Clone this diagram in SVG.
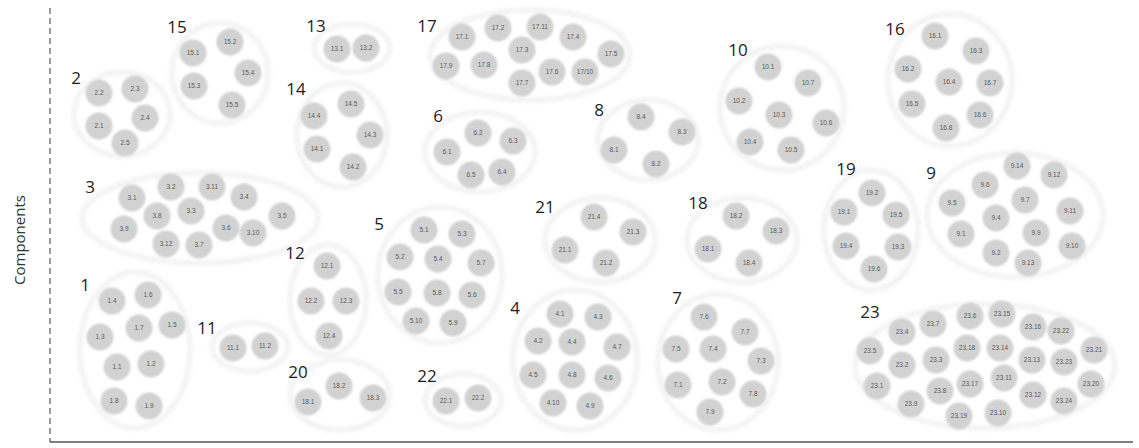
<svg xmlns="http://www.w3.org/2000/svg" width="1139" height="448" viewBox="0 0 1139 448">
<defs>
<filter id="soft" x="-20%" y="-20%" width="140%" height="140%"><feGaussianBlur stdDeviation="1"/></filter>
<filter id="halo" x="-10%" y="-10%" width="120%" height="120%"><feGaussianBlur stdDeviation="2"/></filter>
</defs>
<style>
.c{fill:#d2d2d2;filter:url(#soft)}
.e{fill:none;stroke:#ededed;stroke-width:3.5;filter:url(#halo)}
.t{font-family:"Liberation Sans",Arial,sans-serif;font-size:6.5px;fill:#5a5a5a;text-anchor:middle}
.g{font-family:"Open Sans","Liberation Sans",sans-serif;font-size:17px;fill:#1e1e1e;text-anchor:middle}
.ax{font-family:"Open Sans","Liberation Sans",sans-serif;font-size:15px;fill:#333;text-anchor:middle}
</style>
<rect width="1139" height="448" fill="#fff"/>
<g id="axes">
<line x1="50" y1="8" x2="50" y2="442" stroke="#555" stroke-width="1.2" stroke-dasharray="6,4"/>
<line x1="50" y1="442" x2="1133" y2="442" stroke="#555" stroke-width="1.5"/>
<text class="ax" transform="translate(25,240) rotate(-90)">Components</text>
</g>
<g id="connectors"/>

<g id="group-1">
<ellipse class="e" cx="135" cy="350" rx="55" ry="78"/>
<text class="g" x="85" y="291">1</text>
<circle class="c" cx="112" cy="301" r="13.5"/><text class="t" x="112" y="303.3">1.4</text>
<circle class="c" cx="148" cy="295" r="13.5"/><text class="t" x="148" y="297.3">1.6</text>
<circle class="c" cx="100" cy="337" r="13.5"/><text class="t" x="100" y="339.3">1.3</text>
<circle class="c" cx="139" cy="328" r="13.5"/><text class="t" x="139" y="330.3">1.7</text>
<circle class="c" cx="172" cy="325" r="13.5"/><text class="t" x="172" y="327.3">1.5</text>
<circle class="c" cx="117" cy="367" r="13.5"/><text class="t" x="117" y="369.3">1.1</text>
<circle class="c" cx="151" cy="364" r="13.5"/><text class="t" x="151" y="366.3">1.2</text>
<circle class="c" cx="114" cy="401" r="13.5"/><text class="t" x="114" y="403.3">1.8</text>
<circle class="c" cx="149" cy="406" r="13.5"/><text class="t" x="149" y="408.3">1.9</text>
</g>

<g id="group-2">
<ellipse class="e" cx="122" cy="114" rx="48" ry="42"/>
<text class="g" x="76" y="84">2</text>
<circle class="c" cx="99" cy="93" r="13.5"/><text class="t" x="99" y="95.3">2.2</text>
<circle class="c" cx="135" cy="89" r="13.5"/><text class="t" x="135" y="91.3">2.3</text>
<circle class="c" cx="99" cy="126" r="13.5"/><text class="t" x="99" y="128.3">2.1</text>
<circle class="c" cx="145" cy="118" r="13.5"/><text class="t" x="145" y="120.3">2.4</text>
<circle class="c" cx="125" cy="143" r="13.5"/><text class="t" x="125" y="145.3">2.5</text>
</g>

<g id="group-3">
<ellipse class="e" cx="200" cy="218" rx="118" ry="45"/>
<text class="g" x="90" y="193">3</text>
<circle class="c" cx="132" cy="198" r="13.5"/><text class="t" x="132" y="200.3">3.1</text>
<circle class="c" cx="171" cy="187" r="13.5"/><text class="t" x="171" y="189.3">3.2</text>
<circle class="c" cx="212" cy="187" r="13.5"/><text class="t" x="212" y="189.3">3.11</text>
<circle class="c" cx="244" cy="197" r="13.5"/><text class="t" x="244" y="199.3">3.4</text>
<circle class="c" cx="282" cy="216" r="13.5"/><text class="t" x="282" y="218.3">3.5</text>
<circle class="c" cx="124" cy="229" r="13.5"/><text class="t" x="124" y="231.3">3.9</text>
<circle class="c" cx="157" cy="216" r="13.5"/><text class="t" x="157" y="218.3">3.8</text>
<circle class="c" cx="191" cy="211" r="13.5"/><text class="t" x="191" y="213.3">3.3</text>
<circle class="c" cx="226" cy="228" r="13.5"/><text class="t" x="226" y="230.3">3.6</text>
<circle class="c" cx="253" cy="233" r="13.5"/><text class="t" x="253" y="235.3">3.10</text>
<circle class="c" cx="166" cy="244" r="13.5"/><text class="t" x="166" y="246.3">3.12</text>
<circle class="c" cx="199" cy="245" r="13.5"/><text class="t" x="199" y="247.3">3.7</text>
</g>

<g id="group-4">
<ellipse class="e" cx="575" cy="360" rx="62" ry="70"/>
<text class="g" x="515" y="314">4</text>
<circle class="c" cx="560" cy="314" r="13.5"/><text class="t" x="560" y="316.3">4.1</text>
<circle class="c" cx="598" cy="317" r="13.5"/><text class="t" x="598" y="319.3">4.3</text>
<circle class="c" cx="538" cy="341" r="13.5"/><text class="t" x="538" y="343.3">4.2</text>
<circle class="c" cx="572" cy="342" r="13.5"/><text class="t" x="572" y="344.3">4.4</text>
<circle class="c" cx="617" cy="347" r="13.5"/><text class="t" x="617" y="349.3">4.7</text>
<circle class="c" cx="533" cy="375" r="13.5"/><text class="t" x="533" y="377.3">4.5</text>
<circle class="c" cx="572" cy="375" r="13.5"/><text class="t" x="572" y="377.3">4.8</text>
<circle class="c" cx="608" cy="378" r="13.5"/><text class="t" x="608" y="380.3">4.6</text>
<circle class="c" cx="553" cy="403" r="13.5"/><text class="t" x="553" y="405.3">4.10</text>
<circle class="c" cx="590" cy="406" r="13.5"/><text class="t" x="590" y="408.3">4.9</text>
</g>

<g id="group-5">
<ellipse class="e" cx="440" cy="275" rx="62" ry="68"/>
<text class="g" x="379" y="230">5</text>
<circle class="c" cx="424" cy="230" r="13.5"/><text class="t" x="424" y="232.3">5.1</text>
<circle class="c" cx="462" cy="234" r="13.5"/><text class="t" x="462" y="236.3">5.3</text>
<circle class="c" cx="400" cy="257" r="13.5"/><text class="t" x="400" y="259.3">5.2</text>
<circle class="c" cx="438" cy="259" r="13.5"/><text class="t" x="438" y="261.3">5.4</text>
<circle class="c" cx="481" cy="263" r="13.5"/><text class="t" x="481" y="265.3">5.7</text>
<circle class="c" cx="398" cy="292" r="13.5"/><text class="t" x="398" y="294.3">5.5</text>
<circle class="c" cx="437" cy="293" r="13.5"/><text class="t" x="437" y="295.3">5.8</text>
<circle class="c" cx="472" cy="295" r="13.5"/><text class="t" x="472" y="297.3">5.6</text>
<circle class="c" cx="416" cy="321" r="13.5"/><text class="t" x="416" y="323.3">5.10</text>
<circle class="c" cx="453" cy="323" r="13.5"/><text class="t" x="453" y="325.3">5.9</text>
</g>

<g id="group-6">
<ellipse class="e" cx="480" cy="152" rx="55" ry="40"/>
<text class="g" x="438" y="122">6</text>
<circle class="c" cx="478" cy="133" r="13.5"/><text class="t" x="478" y="135.3">6.2</text>
<circle class="c" cx="513" cy="141" r="13.5"/><text class="t" x="513" y="143.3">6.3</text>
<circle class="c" cx="447" cy="152" r="13.5"/><text class="t" x="447" y="154.3">6.1</text>
<circle class="c" cx="471" cy="175" r="13.5"/><text class="t" x="471" y="177.3">6.5</text>
<circle class="c" cx="502" cy="172" r="13.5"/><text class="t" x="502" y="174.3">6.4</text>
</g>

<g id="group-7">
<ellipse class="e" cx="718" cy="362" rx="60" ry="68"/>
<text class="g" x="677" y="304">7</text>
<circle class="c" cx="704" cy="317" r="13.5"/><text class="t" x="704" y="319.3">7.6</text>
<circle class="c" cx="745" cy="332" r="13.5"/><text class="t" x="745" y="334.3">7.7</text>
<circle class="c" cx="676" cy="349" r="13.5"/><text class="t" x="676" y="351.3">7.5</text>
<circle class="c" cx="713" cy="349" r="13.5"/><text class="t" x="713" y="351.3">7.4</text>
<circle class="c" cx="761" cy="361" r="13.5"/><text class="t" x="761" y="363.3">7.3</text>
<circle class="c" cx="678" cy="385" r="13.5"/><text class="t" x="678" y="387.3">7.1</text>
<circle class="c" cx="722" cy="382" r="13.5"/><text class="t" x="722" y="384.3">7.2</text>
<circle class="c" cx="753" cy="394" r="13.5"/><text class="t" x="753" y="396.3">7.8</text>
<circle class="c" cx="710" cy="412" r="13.5"/><text class="t" x="710" y="414.3">7.9</text>
</g>

<g id="group-8">
<ellipse class="e" cx="648" cy="140" rx="50" ry="40"/>
<text class="g" x="599" y="116">8</text>
<circle class="c" cx="641" cy="117" r="13.5"/><text class="t" x="641" y="119.3">8.4</text>
<circle class="c" cx="682" cy="132" r="13.5"/><text class="t" x="682" y="134.3">8.3</text>
<circle class="c" cx="614" cy="150" r="13.5"/><text class="t" x="614" y="152.3">8.1</text>
<circle class="c" cx="656" cy="164" r="13.5"/><text class="t" x="656" y="166.3">8.2</text>
</g>

<g id="group-9">
<ellipse class="e" cx="1015" cy="215" rx="88" ry="62"/>
<text class="g" x="931" y="179">9</text>
<circle class="c" cx="1017" cy="166" r="13.5"/><text class="t" x="1017" y="168.3">9.14</text>
<circle class="c" cx="1054" cy="175" r="13.5"/><text class="t" x="1054" y="177.3">9.12</text>
<circle class="c" cx="985" cy="185" r="13.5"/><text class="t" x="985" y="187.3">9.6</text>
<circle class="c" cx="952" cy="203" r="13.5"/><text class="t" x="952" y="205.3">9.5</text>
<circle class="c" cx="1025" cy="200" r="13.5"/><text class="t" x="1025" y="202.3">9.7</text>
<circle class="c" cx="1070" cy="211" r="13.5"/><text class="t" x="1070" y="213.3">9.11</text>
<circle class="c" cx="996" cy="218" r="13.5"/><text class="t" x="996" y="220.3">9.4</text>
<circle class="c" cx="961" cy="234" r="13.5"/><text class="t" x="961" y="236.3">9.1</text>
<circle class="c" cx="1036" cy="233" r="13.5"/><text class="t" x="1036" y="235.3">9.9</text>
<circle class="c" cx="1072" cy="246" r="13.5"/><text class="t" x="1072" y="248.3">9.10</text>
<circle class="c" cx="996" cy="253" r="13.5"/><text class="t" x="996" y="255.3">9.2</text>
<circle class="c" cx="1028" cy="263" r="13.5"/><text class="t" x="1028" y="265.3">9.13</text>
</g>

<g id="group-10">
<ellipse class="e" cx="782" cy="108" rx="62" ry="62"/>
<text class="g" x="738" y="56">10</text>
<circle class="c" cx="768" cy="67" r="13.5"/><text class="t" x="768" y="69.3">10.1</text>
<circle class="c" cx="808" cy="83" r="13.5"/><text class="t" x="808" y="85.3">10.7</text>
<circle class="c" cx="739" cy="101" r="13.5"/><text class="t" x="739" y="103.3">10.2</text>
<circle class="c" cx="779" cy="115" r="13.5"/><text class="t" x="779" y="117.3">10.3</text>
<circle class="c" cx="826" cy="123" r="13.5"/><text class="t" x="826" y="125.3">10.6</text>
<circle class="c" cx="750" cy="142" r="13.5"/><text class="t" x="750" y="144.3">10.4</text>
<circle class="c" cx="791" cy="150" r="13.5"/><text class="t" x="791" y="152.3">10.5</text>
</g>

<g id="group-11">
<ellipse class="e" cx="250" cy="347" rx="38" ry="24"/>
<text class="g" x="207" y="334">11</text>
<circle class="c" cx="233" cy="348" r="13.5"/><text class="t" x="233" y="350.3">11.1</text>
<circle class="c" cx="265" cy="346" r="13.5"/><text class="t" x="265" y="348.3">11.2</text>
</g>

<g id="group-12">
<ellipse class="e" cx="328" cy="300" rx="38" ry="55"/>
<text class="g" x="295" y="259">12</text>
<circle class="c" cx="327" cy="266" r="13.5"/><text class="t" x="327" y="268.3">12.1</text>
<circle class="c" cx="311" cy="301" r="13.5"/><text class="t" x="311" y="303.3">12.2</text>
<circle class="c" cx="346" cy="301" r="13.5"/><text class="t" x="346" y="303.3">12.3</text>
<circle class="c" cx="329" cy="336" r="13.5"/><text class="t" x="329" y="338.3">12.4</text>
</g>

<g id="group-13">
<ellipse class="e" cx="352" cy="48" rx="38" ry="24"/>
<text class="g" x="316" y="32">13</text>
<circle class="c" cx="337" cy="49" r="13.5"/><text class="t" x="337" y="51.3">13.1</text>
<circle class="c" cx="366" cy="48" r="13.5"/><text class="t" x="366" y="50.3">13.2</text>
</g>

<g id="group-14">
<ellipse class="e" cx="342" cy="135" rx="45" ry="52"/>
<text class="g" x="296" y="95">14</text>
<circle class="c" cx="314" cy="116" r="13.5"/><text class="t" x="314" y="118.3">14.4</text>
<circle class="c" cx="351" cy="104" r="13.5"/><text class="t" x="351" y="106.3">14.5</text>
<circle class="c" cx="370" cy="135" r="13.5"/><text class="t" x="370" y="137.3">14.3</text>
<circle class="c" cx="317" cy="149" r="13.5"/><text class="t" x="317" y="151.3">14.1</text>
<circle class="c" cx="353" cy="167" r="13.5"/><text class="t" x="353" y="169.3">14.2</text>
</g>

<g id="group-15">
<ellipse class="e" cx="220" cy="73" rx="48" ry="50"/>
<text class="g" x="177" y="33">15</text>
<circle class="c" cx="193" cy="53" r="13.5"/><text class="t" x="193" y="55.3">15.1</text>
<circle class="c" cx="230" cy="42" r="13.5"/><text class="t" x="230" y="44.3">15.2</text>
<circle class="c" cx="248" cy="73" r="13.5"/><text class="t" x="248" y="75.3">15.4</text>
<circle class="c" cx="194" cy="86" r="13.5"/><text class="t" x="194" y="88.3">15.3</text>
<circle class="c" cx="232" cy="105" r="13.5"/><text class="t" x="232" y="107.3">15.5</text>
</g>

<g id="group-16">
<ellipse class="e" cx="950" cy="80" rx="62" ry="66"/>
<text class="g" x="895" y="35">16</text>
<circle class="c" cx="935" cy="36" r="13.5"/><text class="t" x="935" y="38.3">16.1</text>
<circle class="c" cx="976" cy="51" r="13.5"/><text class="t" x="976" y="53.3">16.3</text>
<circle class="c" cx="908" cy="69" r="13.5"/><text class="t" x="908" y="71.3">16.2</text>
<circle class="c" cx="949" cy="82" r="13.5"/><text class="t" x="949" y="84.3">16.4</text>
<circle class="c" cx="990" cy="83" r="13.5"/><text class="t" x="990" y="85.3">16.7</text>
<circle class="c" cx="912" cy="104" r="13.5"/><text class="t" x="912" y="106.3">16.5</text>
<circle class="c" cx="980" cy="115" r="13.5"/><text class="t" x="980" y="117.3">16.6</text>
<circle class="c" cx="946" cy="128" r="13.5"/><text class="t" x="946" y="130.3">16.8</text>
</g>

<g id="group-17">
<ellipse class="e" cx="530" cy="55" rx="100" ry="45"/>
<text class="g" x="427" y="32">17</text>
<circle class="c" cx="462" cy="37" r="13.5"/><text class="t" x="462" y="39.3">17.1</text>
<circle class="c" cx="498" cy="28" r="13.5"/><text class="t" x="498" y="30.3">17.2</text>
<circle class="c" cx="540" cy="27" r="13.5"/><text class="t" x="540" y="29.3">17.11</text>
<circle class="c" cx="522" cy="50" r="13.5"/><text class="t" x="522" y="52.3">17.3</text>
<circle class="c" cx="446" cy="66" r="13.5"/><text class="t" x="446" y="68.3">17.9</text>
<circle class="c" cx="484" cy="65" r="13.5"/><text class="t" x="484" y="67.3">17.8</text>
<circle class="c" cx="522" cy="83" r="13.5"/><text class="t" x="522" y="85.3">17.7</text>
<circle class="c" cx="552" cy="72" r="13.5"/><text class="t" x="552" y="74.3">17.6</text>
<circle class="c" cx="573" cy="37" r="13.5"/><text class="t" x="573" y="39.3">17.4</text>
<circle class="c" cx="611" cy="54" r="13.5"/><text class="t" x="611" y="56.3">17.5</text>
<circle class="c" cx="585" cy="72" r="13.5"/><text class="t" x="585" y="74.3">17/10</text>
</g>

<g id="group-18">
<ellipse class="e" cx="742" cy="240" rx="55" ry="42"/>
<text class="g" x="698" y="209">18</text>
<circle class="c" cx="736" cy="216" r="13.5"/><text class="t" x="736" y="218.3">18.2</text>
<circle class="c" cx="776" cy="231" r="13.5"/><text class="t" x="776" y="233.3">18.3</text>
<circle class="c" cx="708" cy="249" r="13.5"/><text class="t" x="708" y="251.3">18.1</text>
<circle class="c" cx="749" cy="263" r="13.5"/><text class="t" x="749" y="265.3">18.4</text>
</g>

<g id="group-19">
<ellipse class="e" cx="871" cy="230" rx="47" ry="60"/>
<text class="g" x="846" y="175">19</text>
<circle class="c" cx="872" cy="193" r="13.5"/><text class="t" x="872" y="195.3">19.2</text>
<circle class="c" cx="844" cy="212" r="13.5"/><text class="t" x="844" y="214.3">19.1</text>
<circle class="c" cx="896" cy="215" r="13.5"/><text class="t" x="896" y="217.3">19.5</text>
<circle class="c" cx="846" cy="246" r="13.5"/><text class="t" x="846" y="248.3">19.4</text>
<circle class="c" cx="898" cy="247" r="13.5"/><text class="t" x="898" y="249.3">19.3</text>
<circle class="c" cx="874" cy="269" r="13.5"/><text class="t" x="874" y="271.3">19.6</text>
</g>

<g id="group-20">
<ellipse class="e" cx="340" cy="395" rx="50" ry="35"/>
<text class="g" x="298" y="378">20</text>
<circle class="c" cx="308" cy="402" r="13.5"/><text class="t" x="308" y="404.3">18.1</text>
<circle class="c" cx="339" cy="386" r="13.5"/><text class="t" x="339" y="388.3">18.2</text>
<circle class="c" cx="373" cy="398" r="13.5"/><text class="t" x="373" y="400.3">18.3</text>
</g>

<g id="group-21">
<ellipse class="e" cx="600" cy="240" rx="55" ry="42"/>
<text class="g" x="545" y="213">21</text>
<circle class="c" cx="594" cy="217" r="13.5"/><text class="t" x="594" y="219.3">21.4</text>
<circle class="c" cx="633" cy="232" r="13.5"/><text class="t" x="633" y="234.3">21.3</text>
<circle class="c" cx="565" cy="250" r="13.5"/><text class="t" x="565" y="252.3">21.1</text>
<circle class="c" cx="606" cy="263" r="13.5"/><text class="t" x="606" y="265.3">21.2</text>
</g>

<g id="group-22">
<ellipse class="e" cx="463" cy="400" rx="38" ry="26"/>
<text class="g" x="427" y="382">22</text>
<circle class="c" cx="446" cy="401" r="13.5"/><text class="t" x="446" y="403.3">22.1</text>
<circle class="c" cx="478" cy="398" r="13.5"/><text class="t" x="478" y="400.3">22.2</text>
</g>

<g id="group-23">
<ellipse class="e" cx="985" cy="366" rx="130" ry="62"/>
<text class="g" x="870" y="318">23</text>
<circle class="c" cx="902" cy="332" r="13.5"/><text class="t" x="902" y="334.3">23.4</text>
<circle class="c" cx="933" cy="324" r="13.5"/><text class="t" x="933" y="326.3">23.7</text>
<circle class="c" cx="970" cy="316" r="13.5"/><text class="t" x="970" y="318.3">23.6</text>
<circle class="c" cx="1002" cy="314" r="13.5"/><text class="t" x="1002" y="316.3">23.15</text>
<circle class="c" cx="1033" cy="327" r="13.5"/><text class="t" x="1033" y="329.3">23.16</text>
<circle class="c" cx="1061" cy="331" r="13.5"/><text class="t" x="1061" y="333.3">23.22</text>
<circle class="c" cx="870" cy="351" r="13.5"/><text class="t" x="870" y="353.3">23.5</text>
<circle class="c" cx="902" cy="365" r="13.5"/><text class="t" x="902" y="367.3">23.2</text>
<circle class="c" cx="936" cy="360" r="13.5"/><text class="t" x="936" y="362.3">23.3</text>
<circle class="c" cx="967" cy="348" r="13.5"/><text class="t" x="967" y="350.3">23.18</text>
<circle class="c" cx="1000" cy="348" r="13.5"/><text class="t" x="1000" y="350.3">23.14</text>
<circle class="c" cx="1032" cy="360" r="13.5"/><text class="t" x="1032" y="362.3">23.13</text>
<circle class="c" cx="1064" cy="362" r="13.5"/><text class="t" x="1064" y="364.3">23.23</text>
<circle class="c" cx="1094" cy="350" r="13.5"/><text class="t" x="1094" y="352.3">23.21</text>
<circle class="c" cx="877" cy="386" r="13.5"/><text class="t" x="877" y="388.3">23.1</text>
<circle class="c" cx="940" cy="391" r="13.5"/><text class="t" x="940" y="393.3">23.8</text>
<circle class="c" cx="970" cy="384" r="13.5"/><text class="t" x="970" y="386.3">23.17</text>
<circle class="c" cx="1004" cy="378" r="13.5"/><text class="t" x="1004" y="380.3">23.11</text>
<circle class="c" cx="1033" cy="395" r="13.5"/><text class="t" x="1033" y="397.3">23.12</text>
<circle class="c" cx="1091" cy="384" r="13.5"/><text class="t" x="1091" y="386.3">23.20</text>
<circle class="c" cx="1064" cy="401" r="13.5"/><text class="t" x="1064" y="403.3">23.24</text>
<circle class="c" cx="911" cy="404" r="13.5"/><text class="t" x="911" y="406.3">23.9</text>
<circle class="c" cx="959" cy="416" r="13.5"/><text class="t" x="959" y="418.3">23.19</text>
<circle class="c" cx="998" cy="413" r="13.5"/><text class="t" x="998" y="415.3">23.10</text>
</g>
</svg>
